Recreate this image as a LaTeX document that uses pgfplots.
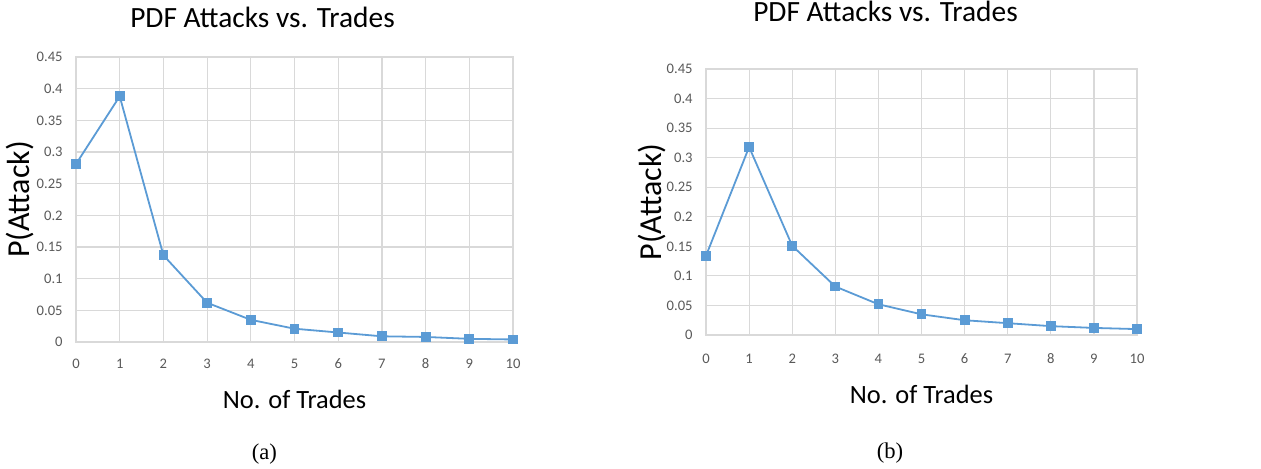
\documentclass[border=0pt]{standalone}
\usepackage{pgfplots}
\pgfplotsset{compat=1.18}
\usepackage{fontspec}
\setmainfont{Carlito}
\newfontfamily\capfont{Liberation Serif}

\definecolor{xlblue}{HTML}{5B9BD5}
\definecolor{gridgray}{HTML}{D9D9D9}
\definecolor{ticktext}{HTML}{595959}

% data
\pgfplotstableread{
x y
0 0.281
1 0.388
2 0.137
3 0.062
4 0.035
5 0.021
6 0.015
7 0.009
8 0.008
9 0.005
10 0.004
}\dataA
\pgfplotstableread{
x y
0 0.134
1 0.318
2 0.151
3 0.082
4 0.052
5 0.035
6 0.025
7 0.020
8 0.015
9 0.012
10 0.010
}\dataB

\pgfplotsset{
  pdfstyle/.style={
    scale only axis,
    anchor=south west,
    xmin=0, xmax=10, ymin=0, ymax=0.45,
    xtick={0,...,10},
    ytick={0,0.05,...,0.45},
    yticklabels={0,0.05,0.1,0.15,0.2,0.25,0.3,0.35,0.4,0.45},
    grid=major,
    grid style={gridgray, line width=0.6pt},
    axis line style={gridgray, line width=0.6pt},
    major tick length=0pt,
    /pgf/number format/assume math mode=true,
    ticklabel style={font=\fontsize{7.3}{8.5}\selectfont, text=ticktext, inner sep=0pt},
    yticklabel style={anchor=east, xshift=-6.5pt},
    title={PDF Attacks vs. Trades},
    title style={font=\fontsize{14.7}{17}\selectfont, text=black, anchor=base, inner sep=0pt},
    xlabel={No. of Trades},
    xlabel style={font=\fontsize{13.2}{15}\selectfont, text=black, anchor=base, inner sep=0pt},
    ylabel={P(Attack)},
    ylabel style={font=\fontsize{16}{18}\selectfont, text=black, anchor=north, inner sep=0pt},
    clip=false,
  },
  pdfline/.style={color=xlblue, line width=0.9pt, mark=square*, mark size=2pt,
    mark options={fill=xlblue, draw=xlblue}},
}

\begin{document}
\begin{tikzpicture}
\useasboundingbox (0,0) rectangle (630.5pt,234pt);

\begin{axis}[pdfstyle,
  at={(38pt,63pt)}, width=218.5pt, height=142.5pt,
  title style={at={(axis description cs:0.5,1)}, yshift=9pt, xshift=-16pt},
  xlabel style={at={(axis description cs:0.5,0)}, yshift=-33pt},
  ylabel style={at={(axis description cs:-0.160,0.5)}},
  xticklabel style={anchor=base, yshift=-13pt},
]
\addplot[pdfline] table[x=x, y=y] {\dataA};
\end{axis}

\begin{axis}[pdfstyle,
  at={(353pt,66.5pt)}, width=215.5pt, height=133pt,
  title style={at={(axis description cs:0.5,1)}, yshift=18pt, xshift=-18pt},
  xlabel style={at={(axis description cs:0.5,0)}, yshift=-34pt},
  ylabel style={at={(axis description cs:-0.158,0.5)}},
  xticklabel style={anchor=base, yshift=-14pt},
]
\addplot[pdfline] table[x=x, y=y] {\dataB};
\end{axis}

\node[font=\capfont\fontsize{11.3}{13}\selectfont, anchor=base, inner sep=0pt] at (132.2pt,4.5pt) {(a)};
\node[font=\capfont\fontsize{11.3}{13}\selectfont, anchor=base, inner sep=0pt] at (445pt,5pt) {(b)};
\end{tikzpicture}
\end{document}
